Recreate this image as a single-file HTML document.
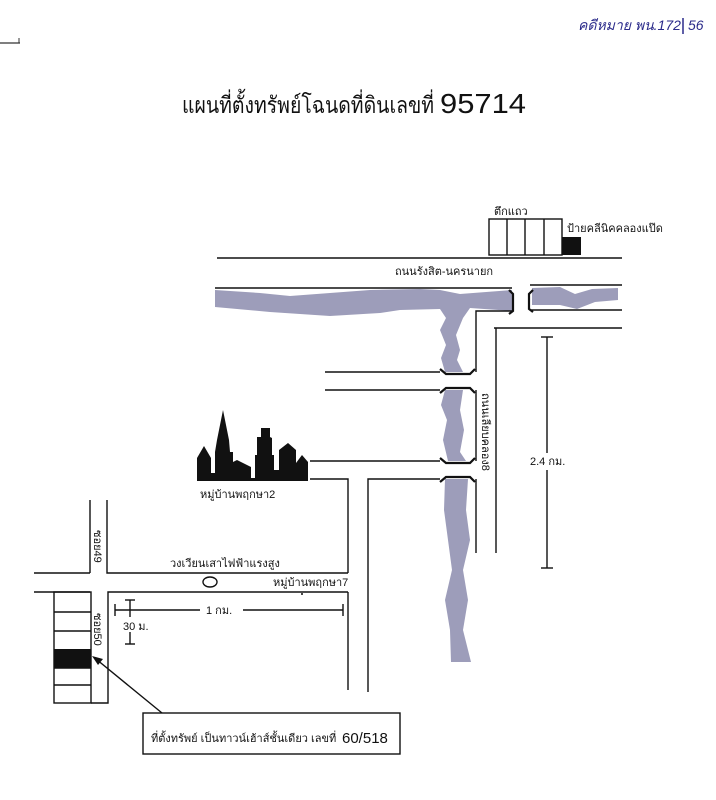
<!DOCTYPE html>
<html><head><meta charset="utf-8">
<style>
html,body{margin:0;padding:0;background:#fff;}
svg{display:block;}
text{font-family:"Liberation Sans","Noto Sans CJK SC",sans-serif;fill:#111;}
</style></head>
<body>
<svg width="716" height="800" viewBox="0 0 716 800" xmlns="http://www.w3.org/2000/svg">
<rect width="716" height="800" fill="#fff"/>
<line x1="0" y1="43" x2="20" y2="43" stroke="#333" stroke-width="1.2"/>
<line x1="19" y1="38" x2="19" y2="43" stroke="#333" stroke-width="1"/>
<text x="578" y="30" font-size="14" font-style="italic" style="fill:#2a2a8a">คดีหมาย พน.172</text>
<line x1="683" y1="18" x2="683" y2="34" stroke="#2a2a8a" stroke-width="1.5"/>
<text x="688" y="30" font-size="14" font-style="italic" style="fill:#2a2a8a">56</text>
<text x="182" y="113" font-size="23" textLength="252" lengthAdjust="spacingAndGlyphs">แผนที่ตั้งทรัพย์โฉนดที่ดินเลขที่</text>
<text x="440" y="113" font-size="28" textLength="86" lengthAdjust="spacingAndGlyphs">95714</text>

<!-- canals -->
<g fill="#9d9dba">
<path d="M215,290 L260,293 L290,296 L330,293 L370,290 L420,289 L440,290 L460,294 L512,290 L512,311 L470,308 L463,318 L456,335 L460,350 L457,360 L463,372 L445,372 L441,358 L446,345 L440,330 L446,318 L440,309 L400,310 L380,313 L330,316 L270,312 L215,307 Z"/>
<path d="M532,288 L560,287 L575,294 L592,289 L618,288 L618,300 L595,302 L577,309 L560,305 L532,305 Z"/>
<path d="M445,390 L463,390 L460,410 L464,430 L460,452 L466,461 L448,461 L443,440 L447,420 L441,405 Z"/>
<path d="M445,479 L468,479 L466,510 L470,540 L463,570 L468,600 L463,630 L471,662 L451,662 L450,630 L445,600 L452,570 L448,540 L444,510 Z"/>
</g>

<g stroke="#111" stroke-width="1.4" fill="none">
<rect x="489" y="219" width="73" height="36"/>
<line x1="507" y1="219" x2="507" y2="255"/>
<line x1="525" y1="219" x2="525" y2="255"/>
<line x1="544" y1="219" x2="544" y2="255"/>
<line x1="217" y1="258" x2="622" y2="258"/>
<line x1="215" y1="288" x2="512" y2="288"/>
<line x1="530" y1="285" x2="622" y2="285"/>
<line x1="530" y1="310" x2="622" y2="310"/>
<line x1="494" y1="328" x2="622" y2="328"/>
<polyline points="512,311 476,311 476,372"/>
<line x1="476" y1="390" x2="476" y2="461"/>
<line x1="476" y1="479" x2="476" y2="553"/>
<line x1="496" y1="328" x2="496" y2="553"/>
<line x1="325" y1="372" x2="440" y2="372"/>
<line x1="325" y1="390" x2="440" y2="390"/>
<line x1="310" y1="461" x2="440" y2="461"/>
<polyline points="310,479 348,479 348,573"/>
<line x1="348" y1="592" x2="348" y2="690"/>
<polyline points="440,479 368,479 368,692"/>
<line x1="90" y1="500" x2="90" y2="573"/>
<polyline points="107,500 107,573 348,573"/>
<line x1="34" y1="573" x2="90" y2="573"/>
<line x1="34" y1="592" x2="90" y2="592"/>
<polyline points="348,592 108,592 108,703 91,703"/>
<rect x="54" y="592" width="37" height="111"/>
<line x1="54" y1="612" x2="91" y2="612"/>
<line x1="54" y1="631" x2="91" y2="631"/>
<line x1="54" y1="668" x2="91" y2="668"/>
<line x1="54" y1="685" x2="91" y2="685"/>
<ellipse cx="210" cy="582" rx="7" ry="5"/>
<line x1="547" y1="337" x2="547" y2="453"/>
<line x1="547" y1="470" x2="547" y2="568"/>
<line x1="541" y1="337" x2="553" y2="337"/>
<line x1="541" y1="568" x2="553" y2="568"/>
<line x1="115" y1="610" x2="200" y2="610"/>
<line x1="243" y1="610" x2="343" y2="610"/>
<line x1="115" y1="604" x2="115" y2="616"/>
<line x1="343" y1="604" x2="343" y2="616"/>
<line x1="130" y1="600" x2="130" y2="617"/>
<line x1="130" y1="632" x2="130" y2="644"/>
<line x1="125" y1="600" x2="135" y2="600"/>
<line x1="125" y1="644" x2="135" y2="644"/>
<rect x="143" y="713" width="257" height="41"/>
<line x1="162" y1="713" x2="96" y2="659"/>
</g>
<polygon points="92,656 103,659 98,665" fill="#111"/>
<rect x="562" y="237" width="19" height="18" fill="#111"/>
<rect x="54" y="649" width="37" height="19" fill="#111"/>

<g stroke="#111" stroke-width="2.2" fill="none">
<path d="M509,290 L513,294 L513,311 L509,314"/>
<path d="M533,290 L529,294 L529,309 L533,312"/>
<path d="M440,369 L446,374 L470,374 L475,369"/>
<path d="M440,393 L446,388 L470,388 L475,393"/>
<path d="M440,458 L446,463 L470,463 L475,458"/>
<path d="M440,482 L446,477 L470,477 L475,482"/>
</g>
<!-- skyline -->
<path fill="#111" d="M197,481 L197,458 L204,446 L211,458 L211,473 L215,473 L215,452 L217,440 L223,410 L229,440 L230,452 L233,452 L233,462 L237,460 L251,467 L251,478 L255,478 L255,455 L257,455 L257,437 L261,437 L261,428 L270,428 L270,437 L272,438 L272,455 L274,455 L274,470 L279,470 L279,450 L288,443 L296,450 L296,463 L302,455 L308,462 L308,481 Z"/>

<text x="494" y="215" font-size="11">ตึกแถว</text>
<text x="567" y="232" font-size="11">ป้ายคลีนิคคลองแป๊ด</text>
<text x="395" y="275" font-size="11">ถนนรังสิต-นครนายก</text>
<text x="482" y="393" font-size="11" transform="rotate(90 482 393)">ถนนเลียบคลอง8</text>
<text x="530" y="465" font-size="11">2.4 กม.</text>
<text x="200" y="498" font-size="11">หมู่บ้านพฤกษา2</text>
<text x="94" y="530" font-size="11" transform="rotate(90 94 530)">ซอย49</text>
<text x="170" y="567" font-size="11">วงเวียนเสาไฟฟ้าแรงสูง</text>
<text x="273" y="586" font-size="11">หมู่บ้านพฤกษา7</text>
<circle cx="302" cy="594" r="1" fill="#111"/>
<text x="94" y="613" font-size="11" transform="rotate(90 94 613)">ซอย50</text>
<text x="206" y="614" font-size="11">1 กม.</text>
<text x="123" y="630" font-size="11">30 ม.</text>
<text x="151" y="742" font-size="11">ที่ตั้งทรัพย์  เป็นทาวน์เฮ้าส์ชั้นเดียว เลขที่</text>
<text x="342" y="743" font-size="15">60/518</text>
</svg>
</body></html>
